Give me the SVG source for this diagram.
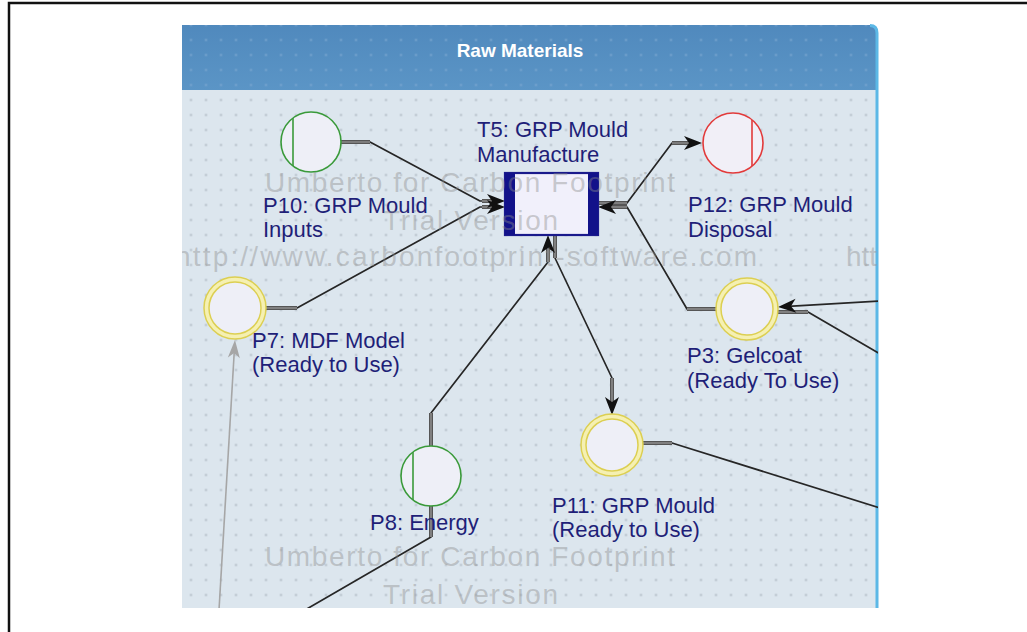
<svg xmlns="http://www.w3.org/2000/svg" width="1027" height="632" viewBox="0 0 1027 632">
  <defs>
    <style>
      .frame { fill: none; stroke: #111; stroke-width: 2.5; }
      .label { font-family: "Liberation Sans", Arial, sans-serif; font-size: 22px; fill: #1f1f78; }
      .title { font-family: "Liberation Sans", Arial, sans-serif; font-size: 19px; font-weight: bold; fill: #ffffff; }
      .wm { font-family: "Liberation Sans", Arial, sans-serif; font-size: 28px; fill: #8c8c8c; fill-opacity: 0.42; }
      .arc { fill: none; stroke: #262626; stroke-width: 1.7; stroke-linejoin: round; }
      .arc-grey { fill: none; stroke: #a6a6a6; stroke-width: 1.6; }
      .stub-out { fill: none; stroke: #555555; stroke-width: 4; }
      .stub-in { fill: none; stroke: #a4a4a4; stroke-width: 1.1; }
      .tip { fill: none; stroke: none; }
      .green { fill: #eeeff7; stroke: #3a9a3a; stroke-width: 1.6; }
      .green-bar { stroke: #3a9a3a; stroke-width: 1.6; }
      .red { fill: #f1eff7; stroke: #e23a3a; stroke-width: 1.6; }
      .red-bar { stroke: #e23a3a; stroke-width: 1.6; }
      .band { fill: #eeeff7; stroke: #f5f0b2; stroke-width: 5; }
      .ring { fill: none; stroke: #dccf52; stroke-width: 1.5; }
    </style>
    <pattern id="dotsBody" patternUnits="userSpaceOnUse" x="183.5" y="107.5" width="15" height="15">
      <rect x="6.5" y="6.5" width="2" height="2" fill="#b2bbc5"/>
    </pattern>
    <pattern id="dotsHead" patternUnits="userSpaceOnUse" x="183.5" y="107.5" width="15" height="15">
      <rect x="6.5" y="6.5" width="2" height="2" fill="#7aa6cf"/>
    </pattern>
    <linearGradient id="headGrad" x1="0" y1="0" x2="0" y2="1">
      <stop offset="0" stop-color="#5089bd"/>
      <stop offset="1" stop-color="#5b95c6"/>
    </linearGradient>
    <marker id="arrow" markerUnits="userSpaceOnUse" markerWidth="20" markerHeight="16" refX="12" refY="7" orient="auto" overflow="visible">
      <path d="M0,0 L18,7 L0,14 L5,7 Z" fill="#111"/>
    </marker>
    <marker id="arrowGrey" markerUnits="userSpaceOnUse" markerWidth="20" markerHeight="16" refX="12" refY="6" orient="auto" overflow="visible">
      <path d="M0,0 L18,6 L0,12 L5,6 Z" fill="#a6a6a6"/>
    </marker>
    <clipPath id="panelClip">
      <path d="M182,25 H870 Q878,25 878,33 V608 H182 Z"/>
    </clipPath>
  </defs>

  <!-- outer frame -->
  <path class="frame" d="M9,632 V3 H1027"/>

  <!-- swimlane panel -->
  <g id="lane">
    <path d="M182,25 H870 Q878,25 878,33 V608 H182 Z" fill="#dce6ee"/>
    <rect x="182" y="90" width="696" height="518" fill="url(#dotsBody)"/>
    <path d="M182,25 H870 Q878,25 878,33 V90 H182 Z" fill="url(#headGrad)"/>
    <rect x="182" y="25" width="694" height="65" fill="url(#dotsHead)"/>
    <path d="M870,25.5 Q877,25.5 877,33 V608" fill="none" stroke="#5cb8e6" stroke-width="3"/>
    <text class="title" x="520" y="57" text-anchor="middle">Raw Materials</text>
  </g>

  <!-- arcs -->
  <g id="connectors" clip-path="url(#panelClip)">
    <path class="arc" d="M341,142 H370 L480,201 H499"/>
    <path class="arc" d="M265,308 H297 L480,207 H499"/>
    <path class="arc" d="M598,203 H627 L672,143 H696"/>
    <path class="arc" d="M717,309 H687 L627,207 H604"/>
    <path class="arc" d="M555,235 V258 L612,378 V409"/>
    <path class="arc" d="M431,446 V413 L548,262 V241"/>
    <path class="arc" d="M431,506 V537 L305,610"/>
    <path class="arc-grey" d="M219,610 L234.6,346"/>
    <path class="arc" d="M880,301 L784,306.6"/>
    <path class="arc" d="M777,312 H808 L880,354"/>
    <path class="arc" d="M642,443 H672 L880,508"/>

    <!-- doubled stubs where arcs meet nodes -->
    <g class="stub-out">
      <path d="M341,142 H370"/><path d="M482,201 H499"/>
      <path d="M265,308 H297"/><path d="M482,207 H499"/>
      <path d="M598,203 H627"/><path d="M672,143 H696"/>
      <path d="M717,309 H687"/><path d="M627,207 H604"/>
      <path d="M555,235 V258"/><path d="M612,378 V409"/>
      <path d="M431,446 V413"/><path d="M548,262 V241"/>
      <path d="M431,506 V537"/>
      <path d="M777,312 H808"/>
      <path d="M642,443 H672"/>
    </g>
    <g class="stub-in">
      <path d="M341,142 H370"/><path d="M482,201 H499"/>
      <path d="M265,308 H297"/><path d="M482,207 H499"/>
      <path d="M598,203 H627"/><path d="M672,143 H696"/>
      <path d="M717,309 H687"/><path d="M627,207 H604"/>
      <path d="M555,235 V258"/><path d="M612,378 V409"/>
      <path d="M431,446 V413"/><path d="M548,262 V241"/>
      <path d="M431,506 V537"/>
      <path d="M777,312 H808"/>
      <path d="M642,443 H672"/>
    </g>

    <!-- arrowheads -->
    <path class="tip" d="M490,201 H499" marker-end="url(#arrow)"/>
    <path class="tip" d="M490,207 H499" marker-end="url(#arrow)"/>
    <path class="tip" d="M686,143 H696" marker-end="url(#arrow)"/>
    <path class="tip" d="M614,207 H604" marker-end="url(#arrow)"/>
    <path class="tip" d="M612,399 V409" marker-end="url(#arrow)"/>
    <path class="tip" d="M548,251 V241" marker-end="url(#arrow)"/>
    <path class="tip" d="M800,305.6 L784,306.6" marker-end="url(#arrow)"/>
    <path class="tip" d="M233.6,362 L234.6,346" marker-end="url(#arrowGrey)"/>
  </g>

  <!-- transition T5 -->
  <g id="T5">
    <rect x="505" y="173" width="93" height="62" fill="#f1f0fb" stroke="#1a1a8c" stroke-width="2.2"/>
    <rect x="505" y="173" width="10" height="62" fill="#12128a"/>
    <rect x="588" y="173" width="10" height="62" fill="#12128a"/>
    <text class="label" x="477" y="137">T5: GRP Mould</text>
    <text class="label" x="477" y="162">Manufacture</text>
  </g>

  <!-- places -->
  <g id="P10">
    <circle class="green" cx="311" cy="142" r="30"/>
    <line class="green-bar" x1="293" y1="118" x2="293" y2="166"/>
    <text class="label" x="263" y="213">P10: GRP Mould</text>
    <text class="label" x="263" y="237">Inputs</text>
  </g>

  <g id="P12">
    <circle class="red" cx="733" cy="143" r="30"/>
    <line class="red-bar" x1="752" y1="120" x2="752" y2="166"/>
    <text class="label" x="688" y="212">P12: GRP Mould</text>
    <text class="label" x="688" y="237">Disposal</text>
  </g>

  <g id="P7">
    <circle class="band" cx="235" cy="308" r="28.5"/>
    <circle class="ring" cx="235" cy="308" r="31"/>
    <circle class="ring" cx="235" cy="308" r="26"/>
    <text class="label" x="252" y="348">P7: MDF Model</text>
    <text class="label" x="252" y="372">(Ready to Use)</text>
  </g>

  <g id="P3">
    <circle class="band" cx="747" cy="309" r="28.5"/>
    <circle class="ring" cx="747" cy="309" r="31"/>
    <circle class="ring" cx="747" cy="309" r="26"/>
    <text class="label" x="687" y="363">P3: Gelcoat</text>
    <text class="label" x="687" y="388">(Ready To Use)</text>
  </g>

  <g id="P11">
    <circle class="band" cx="612" cy="445" r="28.5"/>
    <circle class="ring" cx="612" cy="445" r="31"/>
    <circle class="ring" cx="612" cy="445" r="26"/>
    <text class="label" x="552" y="513">P11: GRP Mould</text>
    <text class="label" x="552" y="537">(Ready to Use)</text>
  </g>

  <g id="P8">
    <circle class="green" cx="431" cy="476" r="30"/>
    <line class="green-bar" x1="413" y1="452" x2="413" y2="500"/>
    <text class="label" x="370" y="530">P8: Energy</text>
  </g>

  <!-- trial watermark -->
  <g id="watermark" clip-path="url(#panelClip)">
    <text class="wm" x="265" y="192" textLength="410" lengthAdjust="spacing">Umberto for Carbon Footprint</text>
    <text class="wm" x="383" y="230" textLength="175" lengthAdjust="spacing">Trial Version</text>
    <text class="wm" x="175" y="266" textLength="582" lengthAdjust="spacing">http://www.carbonfootprint-software.com</text>
    <text class="wm" x="846" y="266">http</text>
    <text class="wm" x="265" y="566" textLength="410" lengthAdjust="spacing">Umberto for Carbon Footprint</text>
    <text class="wm" x="383" y="604" textLength="175" lengthAdjust="spacing">Trial Version</text>
  </g>
</svg>
